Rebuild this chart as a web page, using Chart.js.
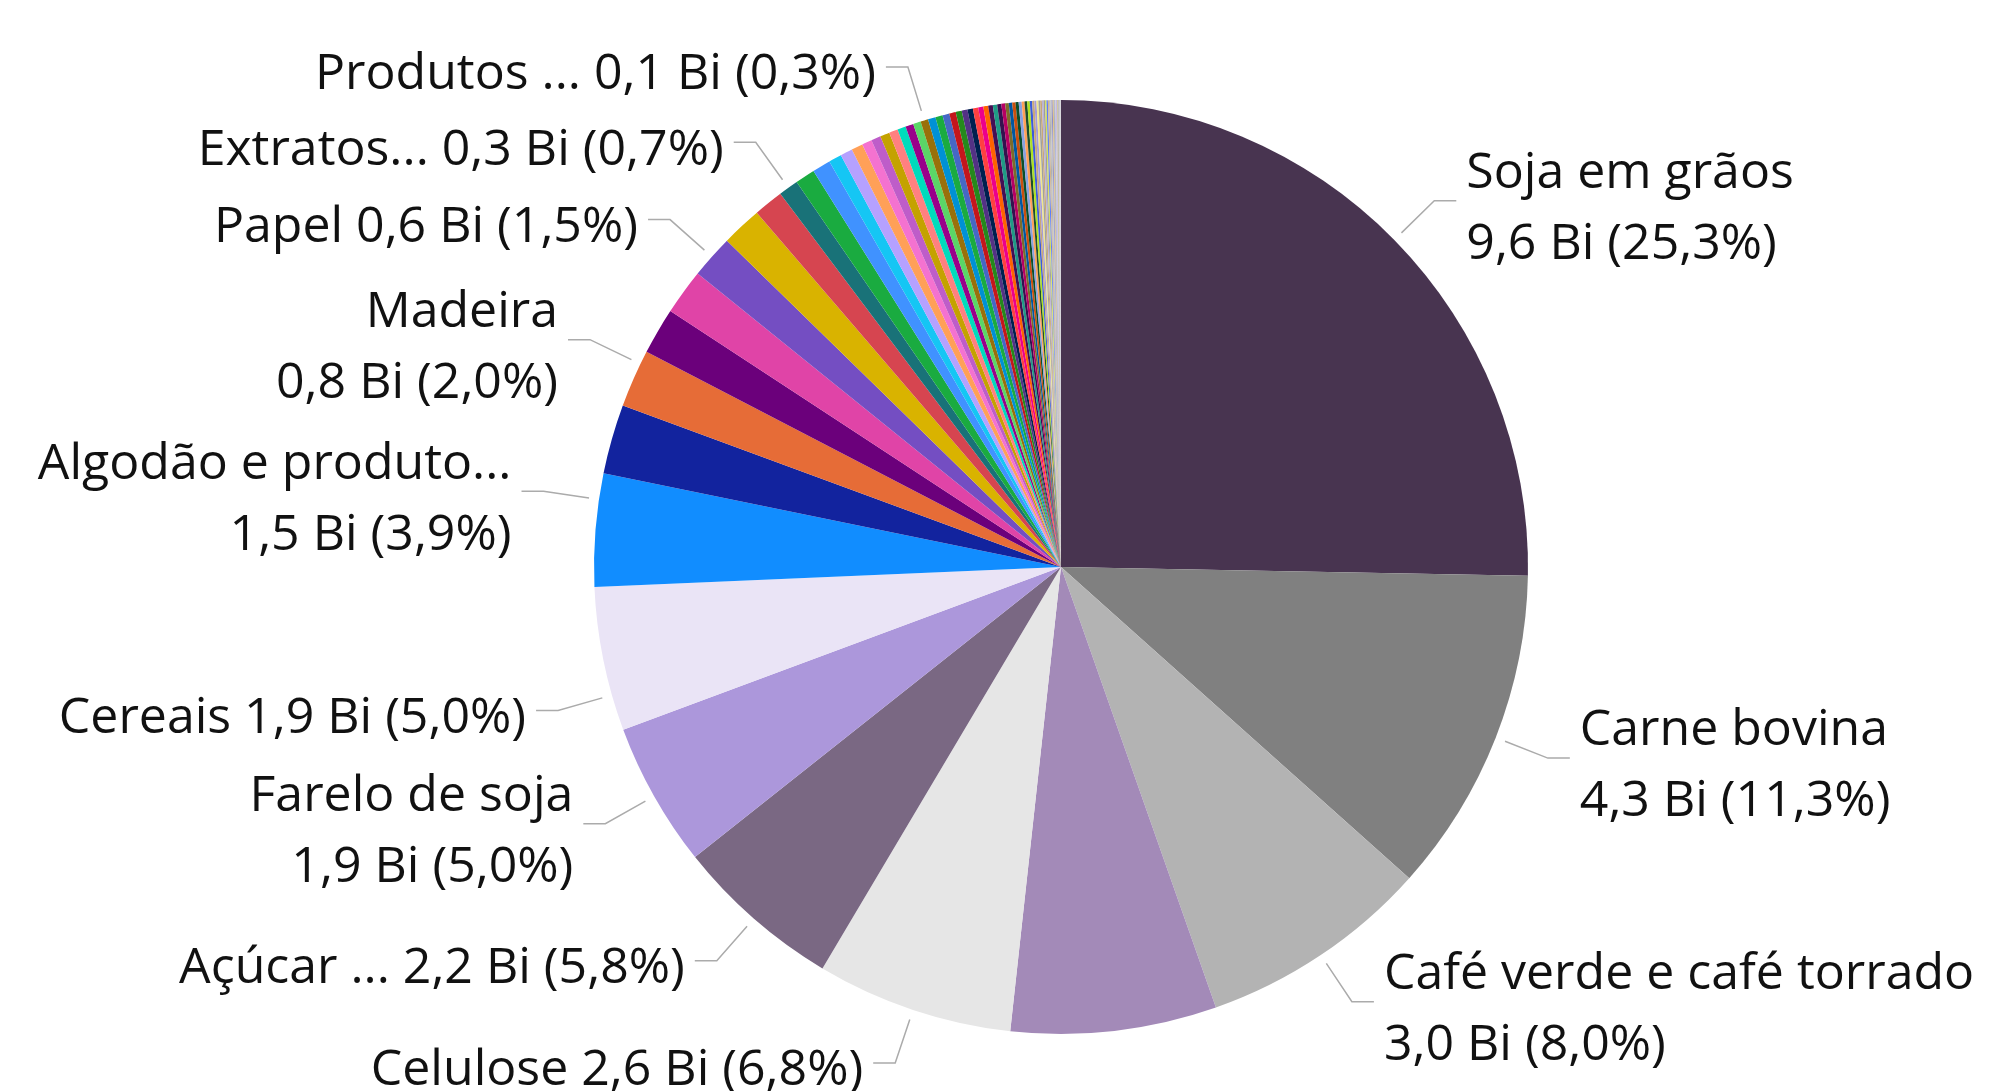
<!DOCTYPE html>
<html>
<head>
<meta charset="utf-8">
<script src="https://cdn.jsdelivr.net/npm/chart.js@4.4.1/dist/chart.umd.min.js"></script>
<style>
  html, body { margin: 0; padding: 0; background: #ffffff; }
  #wrap { width: 1990px; height: 1091px; position: relative; }
</style>
</head>
<body>
<div id="wrap"><canvas id="pie_chart"></canvas></div>
<script>
// values in Bi (US$ billions)
var categories = [
  'Soja em grãos', 'Carne bovina', 'Café verde e café torrado', 'Produto 4', 'Celulose',
  'Açúcar ...', 'Farelo de soja', 'Cereais', 'Algodão e produto...', 'Produto 10',
  'Madeira', 'Produto 12', 'Produto 13', 'Papel', 'Produto 15',
  'Produto 16', 'Extratos...', 'Produto 18', 'Produto 19', 'Produto 20',
  'Produto 21', 'Produto 22', 'Produto 23', 'Produto 24', 'Produto 25',
  'Produto 26', 'Produto 27', 'Produto 28', 'Produto 29', 'Produtos ...',
  'Produto 31', 'Produto 32', 'Produto 33', 'Produto 34', 'Produto 35',
  'Produto 36', 'Produto 37', 'Produto 38', 'Produto 39', 'Produto 40',
  'Produto 41', 'Produto 42', 'Produto 43', 'Produto 44', 'Produto 45',
  'Produto 46', 'Produto 47', 'Produto 48', 'Produto 49', 'Produto 50',
  'Produto 51', 'Produto 52', 'Produto 53', 'Produto 54', 'Produto 55',
  'Produto 56', 'Produto 57', 'Produto 58', 'Produto 59', 'Produto 60',
  'Produto 61', 'Produto 62', 'Produto 63', 'Produto 64', 'Produto 65',
  'Produto 66', 'Produto 67', 'Produto 68', 'Produto 69', 'Produto 70',
  'Produto 71', 'Produto 72', 'Produto 73', 'Produto 74', 'Produto 75',
  'Produto 76', 'Produto 77', 'Produto 78', 'Produto 79', 'Produto 80'
];

var values = [
  9.60, 4.29, 3.04, 2.70, 2.58,
  2.20, 1.90, 1.89, 1.48, 0.91,
  0.76, 0.61, 0.60, 0.57, 0.53,
  0.39, 0.26, 0.26, 0.24, 0.17,
  0.16, 0.15, 0.13, 0.125, 0.125,
  0.115, 0.11, 0.105, 0.10, 0.10,
  0.10, 0.095, 0.09, 0.085, 0.08,
  0.075, 0.072, 0.07, 0.067, 0.064,
  0.06, 0.057, 0.054, 0.05, 0.047,
  0.045, 0.043, 0.041, 0.039, 0.037,
  0.035, 0.033, 0.031, 0.029, 0.027,
  0.025, 0.023, 0.022, 0.021, 0.02,
  0.019, 0.018, 0.017, 0.016, 0.015,
  0.014, 0.013, 0.012, 0.011, 0.010,
  0.009, 0.008, 0.008, 0.007, 0.006,
  0.006, 0.005, 0.005, 0.004, 0.004
];

var colours = [
  '#483450', '#808080', '#B3B3B3', '#A38AB8', '#E6E6E6',
  '#7A6883', '#AC97DB', '#EAE4F6', '#118DFF', '#12239E',
  '#E66C37', '#6B007B', '#E044A7', '#744EC2', '#D9B300',
  '#D64550', '#197278', '#1AAB40', '#4092FF', '#15C6F4',
  '#B5A1FF', '#FFA058', '#F472D0', '#BE5DC9', '#C4A200',
  '#FF8080', '#00DBBC', '#99008A', '#5BD667', '#99700A',
  '#0091D5', '#1AAB40', '#4668C5', '#C4161C', '#25891C',
  '#533285', '#002050', '#FF4141', '#EC008C', '#FF6300',
  '#450F54', '#1F9A85', '#34124F', '#B60064', '#7D6B2A',
  '#0057A2', '#C94F0F', '#0B4F2C', '#8AA0E0', '#FFA058',
  '#1E4D2B', '#AEE320', '#3B5BDB', '#C8A878', '#A59BD9',
  '#F0E68C', '#A0A0A0', '#C8A878', '#B8B0D8', '#9E9E9E',
  '#D4E157', '#5C7CFA', '#D2B48C', '#B0B0B0', '#C0C0C0',
  '#8D8DC7', '#E0C080', '#A8A8A8', '#9FA8DA', '#CFCFCF',
  '#B39DDB', '#BDBDBD', '#C5B358', '#9E9E9E', '#AFAFD0',
  '#D0D0D0', '#A0A0B0', '#C8C8C8', '#B0B0C0', '#D8D8D8'
];

// which slices get a data label, and which of those break onto two lines
var shownLabels = ['Soja em grãos', 'Carne bovina', 'Café verde e café torrado', 'Celulose',
  'Açúcar ...', 'Farelo de soja', 'Cereais', 'Algodão e produto...', 'Madeira', 'Papel',
  'Extratos...', 'Produtos ...'];
var twoLineLabels = ['Soja em grãos', 'Carne bovina', 'Café verde e café torrado',
  'Farelo de soja', 'Algodão e produto...', 'Madeira'];
// small vertical shifts so labels do not crowd each other
var labelNudge = { 'Madeira': -16, 'Algodão e produto...': -34, 'Cereais': 40 };

function fmt(v, d) {
  return v.toFixed(d).replace('.', ',');
}

var outsideLabels = {
  id: 'outsideLabels',
  afterDatasetsDraw: function(chart) {
    var ctx = chart.ctx;
    var meta = chart.getDatasetMeta(0);
    var total = values.reduce(function(a, b) { return a + b; }, 0);

    ctx.save();
    ctx.font = '50px "Segoe UI", "Open Sans", sans-serif';
    ctx.textBaseline = 'middle';
    ctx.lineWidth = 1.5;
    ctx.strokeStyle = '#ABABAB';
    ctx.fillStyle = '#111111';

    for (var i = 0; i < categories.length; i++) {
      var name = categories[i];
      if (shownLabels.indexOf(name) < 0) continue;

      var arc = meta.data[i];
      var p = arc.getProps(['x', 'y', 'startAngle', 'endAngle', 'outerRadius'], true);
      var mid = (p.startAngle + p.endAngle) / 2;
      var re = p.outerRadius + 56;
      var right = Math.cos(mid) >= 0;

      var ey = p.y + re * Math.sin(mid) + (labelNudge[name] || 0);
      var dy = ey - p.y;
      var ex = p.x + (right ? 1 : -1) * Math.sqrt(Math.max(re * re - dy * dy, 0));

      // leader points back to the centre, kept inside the slice
      var b = Math.atan2(ey - p.y, ex - p.x);
      if (b < -Math.PI / 2) b += Math.PI * 2;
      b = Math.min(Math.max(b, p.startAngle), p.endAngle);
      var sx = p.x + (p.outerRadius + 10) * Math.cos(b);
      var sy = p.y + (p.outerRadius + 10) * Math.sin(b);
      var hx = ex + (right ? 22 : -22);

      ctx.beginPath();
      ctx.moveTo(sx, sy);
      ctx.lineTo(ex, ey);
      ctx.lineTo(hx, ey);
      ctx.stroke();

      var valText = fmt(values[i], 1) + ' Bi (' + fmt(values[i] / total * 100, 1) + '%)';
      var tx = hx + (right ? 10 : -10);
      ctx.textAlign = right ? 'left' : 'right';
      if (twoLineLabels.indexOf(name) >= 0) {
        ctx.fillText(name, tx, ey - 27);
        ctx.fillText(valText, tx, ey + 44);
      } else {
        ctx.fillText(name + ' ' + valText, tx, ey + 8);
      }
    }
    ctx.restore();
  }
};

var pieChart = new Chart(document.getElementById('pie_chart'), {
  type: 'pie',
  data: {
    labels: categories,
    datasets: [{
      data: values,
      backgroundColor: colours,
      borderWidth: 0
    }]
  },
  options: {
    responsive: true,
    maintainAspectRatio: false,
    devicePixelRatio: 1,
    animation: false,
    layout: {
      padding: { top: 100, bottom: 57, left: 594, right: 462 }
    },
    plugins: {
      legend: { display: false },
      tooltip: { enabled: false }
    }
  },
  plugins: [outsideLabels]
});
</script>
</body>
</html>
